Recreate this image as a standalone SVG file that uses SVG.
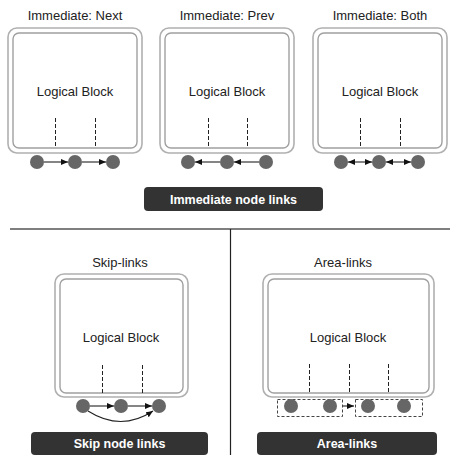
<svg xmlns="http://www.w3.org/2000/svg" width="450" height="455" viewBox="0 0 450 455">
<style>
.title{font-family:"Liberation Sans",Arial,sans-serif;font-size:13px;fill:#222;text-anchor:middle}
.lb{font-family:"Liberation Sans",Arial,sans-serif;font-size:13px;fill:#222;text-anchor:middle}
.outer{fill:#fff;stroke:#b0b0b0;stroke-width:1.6}
.inner{fill:#fff;stroke:#a0a0a0;stroke-width:1.4}
.dash{stroke:#222;stroke-width:1;stroke-dasharray:4,2}
.node{fill:#666}
.link{stroke:#222;stroke-width:1.1;fill:none}
.badge{fill:#333}
.btext{font-family:"Liberation Sans",Arial,sans-serif;font-size:12.5px;font-weight:bold;fill:#fff;text-anchor:middle}
.box{fill:none;stroke:#444;stroke-width:1;stroke-dasharray:3,2}
</style>
<defs>
<marker id="ah" markerUnits="userSpaceOnUse" markerWidth="8" markerHeight="8" refX="7" refY="3" orient="auto-start-reverse">
<path d="M0,0 L7,3 L0,6 z" fill="#111"/>
</marker>
</defs>
<g id="separators">
<line x1="10" y1="229" x2="450" y2="229" stroke="#555" stroke-width="1.5"/>
<line x1="230.5" y1="229" x2="230.5" y2="455" stroke="#222" stroke-width="1.2"/>
</g>
<g id="block-next">
<text class="title" x="75" y="20">Immediate: Next</text>
<rect class="outer" x="8" y="28" width="134" height="125" rx="9"/>
<rect class="inner" x="13" y="33" width="124" height="115" rx="6"/>
<text class="lb" x="75" y="96">Logical Block</text>
<line class="dash" x1="55.5" y1="118" x2="55.5" y2="148"/>
<line class="dash" x1="95.5" y1="118" x2="95.5" y2="148"/>
<circle class="node" cx="37" cy="162" r="7"/>
<circle class="node" cx="75" cy="162" r="7"/>
<circle class="node" cx="113" cy="162" r="7"/>
</g>
<g id="block-prev">
<text class="title" x="227" y="20">Immediate: Prev</text>
<rect class="outer" x="160" y="28" width="134" height="125" rx="9"/>
<rect class="inner" x="165" y="33" width="124" height="115" rx="6"/>
<text class="lb" x="227" y="96">Logical Block</text>
<line class="dash" x1="208.5" y1="118" x2="208.5" y2="148"/>
<line class="dash" x1="247.5" y1="118" x2="247.5" y2="148"/>
<circle class="node" cx="188" cy="162" r="7"/>
<circle class="node" cx="227" cy="162" r="7"/>
<circle class="node" cx="266" cy="162" r="7"/>
</g>
<g id="block-both">
<text class="title" x="380" y="20">Immediate: Both</text>
<rect class="outer" x="313" y="28" width="134" height="125" rx="9"/>
<rect class="inner" x="318" y="33" width="124" height="115" rx="6"/>
<text class="lb" x="380" y="96">Logical Block</text>
<line class="dash" x1="360.5" y1="118" x2="360.5" y2="148"/>
<line class="dash" x1="400.5" y1="118" x2="400.5" y2="148"/>
<circle class="node" cx="341" cy="162" r="7"/>
<circle class="node" cx="379" cy="162" r="7"/>
<circle class="node" cx="418" cy="162" r="7"/>
</g>
<g id="badge-immediate">
<rect class="badge" x="144" y="187" width="179" height="24" rx="4"/>
<text class="btext" x="233.5" y="203.5">Immediate node links</text>
</g>
<g id="block-skip">
<text class="title" x="120" y="267">Skip-links</text>
<rect class="outer" x="55" y="274" width="133" height="123" rx="9"/>
<rect class="inner" x="60" y="279" width="123" height="114" rx="6"/>
<text class="lb" x="121" y="342">Logical Block</text>
<line class="dash" x1="102.5" y1="365" x2="102.5" y2="393"/>
<line class="dash" x1="142.5" y1="365" x2="142.5" y2="393"/>
<circle class="node" cx="83" cy="406" r="7"/>
<circle class="node" cx="121" cy="406" r="7"/>
<circle class="node" cx="159" cy="406" r="7"/>
</g>
<g id="badge-skip">
<rect class="badge" x="31" y="432" width="177" height="23" rx="4"/>
<text class="btext" x="119.5" y="447.5">Skip node links</text>
</g>
<g id="block-area">
<text class="title" x="343" y="267">Area-links</text>
<rect class="outer" x="263" y="274" width="171" height="123" rx="9"/>
<rect class="inner" x="268" y="279" width="161" height="114" rx="6"/>
<text class="lb" x="348" y="342">Logical Block</text>
<line class="dash" x1="309.5" y1="364" x2="309.5" y2="393"/>
<line class="dash" x1="349.5" y1="364" x2="349.5" y2="393"/>
<line class="dash" x1="388.5" y1="364" x2="388.5" y2="393"/>
<rect class="box" x="277.5" y="399.5" width="65" height="17"/>
<rect class="box" x="355.5" y="399.5" width="67" height="17"/>
<circle class="node" cx="291" cy="406" r="7"/>
<circle class="node" cx="330" cy="406" r="7"/>
<circle class="node" cx="368" cy="406" r="7"/>
<circle class="node" cx="404" cy="406" r="7"/>
</g>
<g id="badge-area">
<rect class="badge" x="257" y="432" width="180" height="23" rx="4"/>
<text class="btext" x="347" y="447.5">Area-links</text>
</g>
<g id="connectors">
<line class="link" x1="44" y1="162" x2="68" y2="162" marker-end="url(#ah)"/>
<line class="link" x1="82" y1="162" x2="106" y2="162" marker-end="url(#ah)"/>
<line class="link" x1="220" y1="162" x2="195" y2="162" marker-end="url(#ah)"/>
<line class="link" x1="259" y1="162" x2="234" y2="162" marker-end="url(#ah)"/>
<line class="link" x1="348" y1="162" x2="372" y2="162" marker-start="url(#ah)" marker-end="url(#ah)"/>
<line class="link" x1="386" y1="162" x2="411" y2="162" marker-start="url(#ah)" marker-end="url(#ah)"/>
<line class="link" x1="90" y1="406" x2="114" y2="406" marker-end="url(#ah)"/>
<line class="link" x1="128" y1="406" x2="152" y2="406" marker-end="url(#ah)"/>
<path class="link" d="M88,411 Q121,432 153,411" marker-end="url(#ah)"/>
<line class="link" x1="343" y1="406" x2="354" y2="406" marker-end="url(#ah)"/>
</g>
</svg>
